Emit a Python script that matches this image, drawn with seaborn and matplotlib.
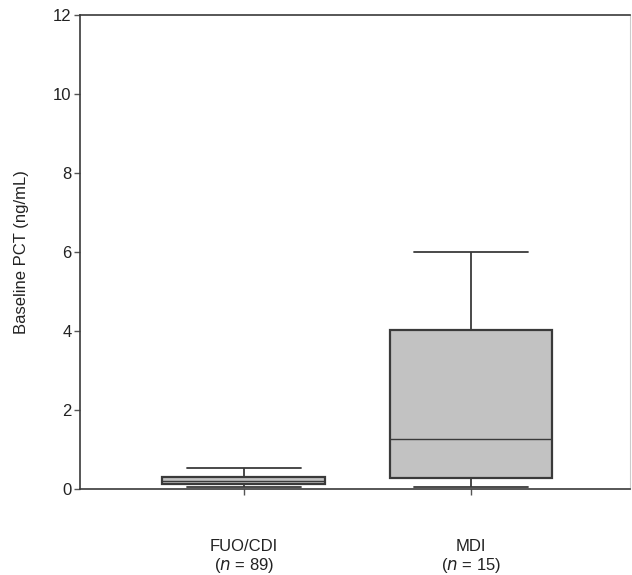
import matplotlib
matplotlib.use('Agg')
import matplotlib.pyplot as plt
import pandas as pd
import seaborn as sns

# Box summaries (ng/mL)
groups = ['FUO/CDI', 'MDI']
n_counts = [89, 15]
mins = [0.04, 0.04]
q1s = [0.13, 0.27]
medians = [0.20, 1.27]
q3s = [0.30, 4.03]
maxs = [0.54, 6.0]
y_ticks = [0, 2, 4, 6, 8, 10, 12]

# five values per group reproduce the quartiles exactly
rows = []
for g, a, b, c, d, e in zip(groups, mins, q1s, medians, q3s, maxs):
    for v in (a, b, c, d, e):
        rows.append({'group': g, 'pct': v})
df = pd.DataFrame(rows)

sns.set_style('ticks')
plt.rcParams['font.family'] = ['Liberation Sans', 'DejaVu Sans']

fig = plt.figure(figsize=(6.32, 5.75), dpi=100)
ax = fig.add_axes([0.1266, 0.1496, 0.8704, 0.8244])

line_kw = {'color': '#3a3a3a', 'linewidth': 1.3}
sns.boxplot(
    data=df, x='group', y='pct', order=groups, ax=ax,
    whis=(0, 100), width=0.715, color='#c2c2c2', saturation=1,
    linecolor='#3a3a3a', linewidth=1.3, showfliers=False,
    boxprops={'edgecolor': '#3a3a3a', 'linewidth': 1.6},
    whiskerprops=line_kw, capprops=line_kw, medianprops={'color': '#3a3a3a', 'linewidth': 1.0},
    capwidths=0.5,
)

ax.set_xlim(-0.72, 1.70)
ax.set_ylim(0, 12)
ax.set_yticks(y_ticks)
ax.set_yticklabels([str(t) for t in y_ticks], fontsize=12, color='#222222')
ax.set_xticks([0, 1])
ax.set_xticklabels([f'{g}\n($\\it{{n}}$ = {n})' for g, n in zip(groups, n_counts)],
                   fontsize=12, color='#222222', linespacing=1.15)
ax.tick_params(axis='y', direction='out', length=4, width=1, color='#555555', pad=2)
ax.tick_params(axis='x', direction='out', length=4, width=1, color='#555555', pad=32)
ax.set_xlabel('')
ax.set_ylabel('Baseline PCT (ng/mL)', fontsize=12, color='#222222', labelpad=17)

for side in ['left', 'bottom', 'top']:
    ax.spines[side].set_color('#3a3a3a')
    ax.spines[side].set_linewidth(1.2)
ax.spines['right'].set_color('#cccccc')
ax.spines['right'].set_linewidth(0.8)

fig.savefig('out.png', dpi=100)
